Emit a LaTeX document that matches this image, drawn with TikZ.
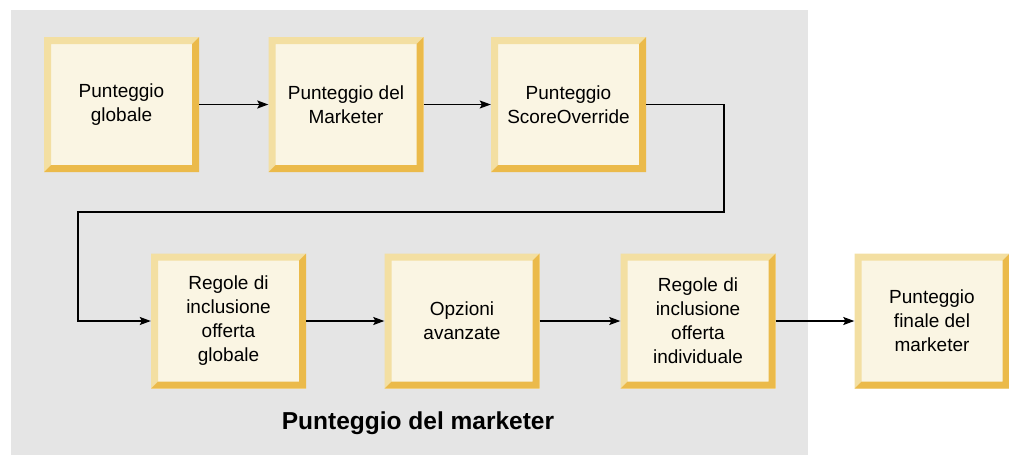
\documentclass[tikz,border=0pt]{standalone}
\usepackage{fontspec}
\setmainfont{Liberation Sans}
\usepackage{tikz}
\usetikzlibrary{arrows.meta}

\definecolor{sfondo}{HTML}{E5E5E5}
\definecolor{faccia}{HTML}{FAF5E3}
\definecolor{chiaro}{HTML}{F3DFA2}
\definecolor{scuro}{HTML}{EBBA4A}

\begin{document}
\begin{tikzpicture}[x=1pt,y=-1pt,
  blocco/.style={minimum width=155pt, minimum height=135pt, inner sep=0pt, fill=faccia, align=center,
    font=\fontsize{19}{24}\selectfont,
    path picture={
      \fill [chiaro] (path picture bounding box.north west) -- (path picture bounding box.north east)
        -- ([shift={(-7pt,-7pt)}]path picture bounding box.north east) -- ([shift={(7pt,-7pt)}]path picture bounding box.north west)
        -- ([shift={(7pt,7pt)}]path picture bounding box.south west) -- (path picture bounding box.south west) -- cycle;
      \fill [scuro] (path picture bounding box.south east) -- (path picture bounding box.north east)
        -- ([shift={(-7pt,-7pt)}]path picture bounding box.north east) -- ([shift={(-7pt,7pt)}]path picture bounding box.south east)
        -- ([shift={(7pt,7pt)}]path picture bounding box.south west) -- (path picture bounding box.south west) -- cycle;
    }},
  freccia/.style={line width=1.3pt, -{Stealth[length=11pt,width=8pt,inset=2pt]}}]

\useasboundingbox (0,0) rectangle (1009,455);
\fill [sfondo] (11,10) rectangle (808,455);

\node [blocco] (glob) at (121.5,104.5) {Punteggio\\globale};
\node [blocco] (mark) at (346,104.5) {Punteggio del\\Marketer};
\node [blocco] (over) at (568.5,104.5) {Punteggio\\ScoreOverride};

\node [blocco] (incg) at (228.5,321) {Regole di\\inclusione\\offerta\\globale};
\node [blocco] (opz) at (462,321) {Opzioni\\avanzate};
\node [blocco] (inci) at (698,321) {Regole di\\inclusione\\offerta\\individuale};
\node [blocco] (fin) at (932,321) {Punteggio\\finale del\\marketer};

\node [font=\fontsize{24.5}{30}\selectfont\bfseries] (titolo) at (418,423) {Punteggio del marketer};

\coordinate (giuD) at (724,212);
\coordinate (giuS) at (78,212);

\draw [freccia] (glob.east) -- (mark.west);
\draw [freccia] (mark.east) -- (over.west);
\draw [freccia] (over.east) -| (giuD) -- (giuS) |- (incg.west);
\draw [freccia] (incg.east) -- (opz.west);
\draw [freccia] (opz.east) -- (inci.west);
\draw [freccia] (inci.east) -- (fin.west);

\end{tikzpicture}
\end{document}
